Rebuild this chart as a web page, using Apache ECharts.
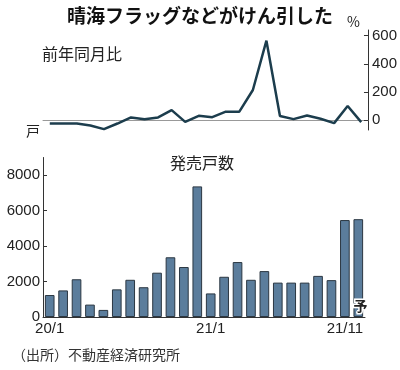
<!DOCTYPE html>
<html><head><meta charset="utf-8">
<script src="https://cdn.jsdelivr.net/npm/echarts@6/dist/echarts.min.js"></script>
<style>html,body{margin:0;padding:0;background:#fff}#c{width:400px;height:370px}</style>
</head><body><div id="c"></div>
<script>
const months = ["20/1","20/2","20/3","20/4","20/5","20/6","20/7","20/8","20/9","20/10","20/11","20/12",
                "21/1","21/2","21/3","21/4","21/5","21/6","21/7","21/8","21/9","21/10","21/11","21/12"];
const shownLabels = ["20/1","21/1","21/11"];
const yoyPct = [-24,-24,-24,-38,-64,-24,19,7,19,71,-12,31,21,60,60,214,564,29,7,33,10,-21,100,-14];
const units = [1240,1500,2130,700,400,1560,2100,1680,2500,3370,2820,7370,
               1330,2270,3100,2100,2590,1940,1940,1940,2320,2080,5470,5520];
const pctTicks = [0,200,400,600];
const unitTicks = [0,2000,4000,6000,8000];

const FONT = "'Liberation Sans Narrow','Liberation Sans',sans-serif";
const JP = "'Noto Sans CJK JP',sans-serif";
const chart = echarts.init(document.getElementById('c'), null, {renderer:'canvas'});
chart.setOption({
  animation:false,
  backgroundColor:'#fff',
  grid:[
    {left:43, right:32, top:30, height:100},
    {left:43, right:35, top:157.5, height:159.5}
  ],
  xAxis:[
    {gridIndex:0, type:'category', data:months, boundaryGap:true,
     axisLine:{show:true, onZero:true, lineStyle:{color:'#999', width:1}},
     axisTick:{show:false}, axisLabel:{show:false}},
    {gridIndex:1, type:'category', data:months, boundaryGap:true,
     axisLine:{show:true, lineStyle:{color:'#333', width:1}},
     axisTick:{show:false},
     axisLabel:{interval:0, formatter:v=>shownLabels.includes(v)?v:'', color:'#222',
       fontFamily:FONT, fontSize:15, margin:4}}
  ],
  yAxis:[
    {gridIndex:0, type:'value', position:'right', min:-70, max:640,
     splitLine:{show:false},
     axisLine:{show:true, lineStyle:{color:'#333', width:1}},
     axisTick:{show:true, length:4, inside:true, customValues:pctTicks, lineStyle:{color:'#333'}},
     axisLabel:{customValues:pctTicks, formatter:v=>String(v), color:'#222', fontFamily:FONT, fontSize:15, margin:4}},
    {gridIndex:1, type:'value', min:0, max:9000,
     splitLine:{show:false},
     axisLine:{show:true, lineStyle:{color:'#333', width:1}},
     axisTick:{show:true, length:4, inside:true, customValues:unitTicks, lineStyle:{color:'#333'}},
     axisLabel:{customValues:unitTicks, formatter:v=>String(v), color:'#222', fontFamily:FONT, fontSize:15, margin:3}}
  ],
  series:[
    {type:'line', xAxisIndex:0, yAxisIndex:0, data:yoyPct, symbol:'none',
     lineStyle:{color:'#1c3d4d', width:2.5}},
    {type:'bar', xAxisIndex:1, yAxisIndex:1, data:units, barCategoryGap:'28%',
     itemStyle:{color:'#5b7d9c', borderColor:'#2b3742', borderWidth:1}}
  ],
  graphic:[
    {type:'text', left:'center', top:6, style:{text:'晴海フラッグなどがけん引した', font:"bold 19px "+JP, fill:'#111'}},
    {type:'text', left:347, top:15, style:{text:'%', font:"14px "+JP, fill:'#222'}},
    {type:'text', left:42, top:46, style:{text:'前年同月比', font:"16px "+JP, fill:'#222'}},
    {type:'text', left:26, top:124, style:{text:'戸', font:"14px "+JP, fill:'#222'}},
    {type:'text', left:170, top:155, style:{text:'発売戸数', font:"16px "+JP, fill:'#222'}},
    {type:'text', left:352, top:297, z:100, style:{text:'予', font:"bold 14px "+JP, fill:'#222', stroke:'#fff', lineWidth:3}},
    {type:'text', left:12, top:348, style:{text:'（出所）不動産経済研究所', font:"14px "+JP, fill:'#333'}}
  ]
});
</script></body></html>
